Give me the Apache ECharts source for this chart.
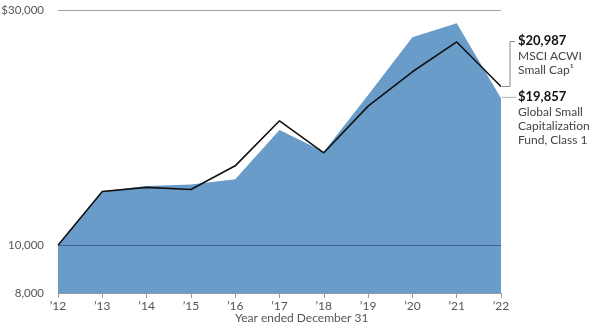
<!DOCTYPE html>
<html>
<head>
<meta charset="utf-8">
<script src="https://cdn.jsdelivr.net/npm/echarts@6/dist/echarts.min.js"></script>
<style>
  html, body { margin: 0; padding: 0; background: #fff; }
  #chart { width: 592px; height: 330px; }
</style>
</head>
<body>
<div id="chart"></div>
<script>
// Growth of $10,000, year-end values
const years = ['’12', '’13', '’14', '’15', '’16', '’17', '’18', '’19', '’20', '’21', '’22'];
const fundValues = [10000, 12870, 13180, 13280, 13610, 17120, 15470, 20170, 26410, 28190, 19857];
const indexValues = [10000, 12850, 13100, 12970, 14490, 17880, 15400, 19150, 22480, 25840, 20987];
const yTicks = [8000, 10000, 30000];

const fundName = 'Global Small Capitalization Fund, Class 1';
const indexName = 'MSCI ACWI Small Cap¹';

const FONT = 'Lato, "Open Sans", sans-serif';
const fmtMoney = v => '$' + v.toLocaleString('en-US');

const chart = echarts.init(document.getElementById('chart'), null, { renderer: 'canvas' });

chart.setOption({
  animation: false,
  backgroundColor: '#ffffff',
  grid: { left: 58, right: 91, top: 10, bottom: 37, containLabel: false, outerBoundsMode: 'none' },
  xAxis: {
    type: 'category',
    data: years,
    boundaryGap: false,
    axisLine: { show: true, lineStyle: { color: '#9a9a9a', width: 1 } },
    axisTick: { show: true, alignWithLabel: true, length: 5, lineStyle: { color: '#9a9a9a' } },
    axisLabel: { color: '#555', fontFamily: FONT, fontSize: 12, margin: 7 },
    splitLine: { show: false }
  },
  yAxis: {
    type: 'log',
    logBase: 10,
    min: 8000,
    max: 30000,
    axisLine: { show: false },
    axisTick: { show: false },
    splitLine: { show: false },
    axisLabel: {
      customValues: yTicks,
      color: '#555',
      fontFamily: FONT,
      fontSize: 11.5,
      margin: 14,
      formatter: v => (Math.round(v) === yTicks[yTicks.length - 1] ? '$' : '') + Math.round(v).toLocaleString('en-US')
    }
  },
  series: [
    {
      name: fundName,
      type: 'line',
      data: fundValues,
      symbol: 'none',
      lineStyle: { width: 0 },
      areaStyle: { color: '#6a9cc9', opacity: 1, origin: 'start' },
      z: 2,
      markLine: {
        silent: true,
        symbol: 'none',
        label: { show: false },
        data: [
          { yAxis: yTicks[1], lineStyle: { color: '#3b5f86', width: 1, type: 'solid' } },
          { yAxis: yTicks[2], lineStyle: { color: '#a0a0a0', width: 1, type: 'solid' } }
        ]
      }
    },
    {
      name: indexName,
      type: 'line',
      data: indexValues,
      symbol: 'none',
      lineStyle: { color: '#111', width: 1.6 },
      z: 4
    }
  ]
});

// End-of-period callouts, anchored to the last data points
const last = years.length - 1;
const pF = chart.convertToPixel({ seriesIndex: 0 }, [years[last], fundValues[last]]);
const pI = chart.convertToPixel({ seriesIndex: 1 }, [years[last], indexValues[last]]);
const textX = pF[0] + 17;
const bracketX = pF[0] + 9;
const idxTop = pI[1] - 45;
const lineCol = '#8a8a8a';

chart.setOption({
  graphic: [
    {
      type: 'polyline', silent: true,
      shape: { points: [[pI[0] + 1, pI[1]], [bracketX, pI[1]], [bracketX, idxTop], [bracketX + 5, idxTop]] },
      style: { stroke: lineCol, lineWidth: 1, fill: null }
    },
    {
      type: 'line', silent: true,
      shape: { x1: pF[0] + 1, y1: pF[1] - 1, x2: pF[0] + 15, y2: pF[1] - 1 },
      style: { stroke: '#b0b0b0', lineWidth: 1 }
    },
    {
      type: 'text', silent: true, x: textX, y: idxTop - 7,
      style: { text: fmtMoney(indexValues[last]), fill: '#111', font: 'bold 13px ' + FONT }
    },
    {
      type: 'text', silent: true, x: textX, y: idxTop + 8,
      style: { text: 'MSCI ACWI\nSmall Cap¹', fill: '#444', font: '12px ' + FONT, lineHeight: 14 }
    },
    {
      type: 'text', silent: true, x: textX, y: pF[1] - 8,
      style: { text: fmtMoney(fundValues[last]), fill: '#111', font: 'bold 13px ' + FONT }
    },
    {
      type: 'text', silent: true, x: textX, y: pF[1] + 7,
      style: { text: 'Global Small\nCapitalization\nFund, Class 1', fill: '#444', font: '12px ' + FONT, lineHeight: 14 }
    },
    {
      type: 'text', silent: true, x: 235, y: 312,
      style: { text: 'Year ended December 31', fill: '#555', font: '12px ' + FONT }
    }
  ]
});
</script>
</body>
</html>
